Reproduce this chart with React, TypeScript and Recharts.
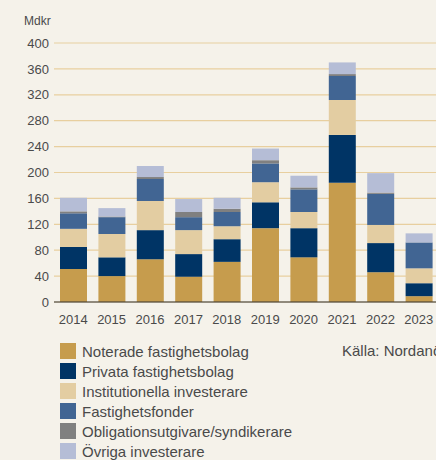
import React from "react";
import { BarChart, Bar, XAxis, YAxis, CartesianGrid } from "recharts";

// Mdkr per år och investerartyp
const years = ["2014", "2015", "2016", "2017", "2018", "2019", "2020", "2021", "2022", "2023"];
const noterade = [51, 40, 66, 39, 62, 114, 69, 184, 46, 9];
const privata = [34, 29, 45, 35, 35, 40, 45, 74, 45, 20];
const institutionella = [28, 36, 45, 37, 20, 31, 25, 54, 28, 23];
const fonder = [24, 26, 34, 20, 22, 29, 35, 37, 48, 40];
const obligationer = [3, 1, 3, 8, 5, 5, 3, 3, 2, 0];
const ovriga = [21, 13, 17, 20, 17, 18, 18, 18, 30, 14];
const yTicks = [0, 40, 80, 120, 160, 200, 240, 280, 320, 360, 400];

const series = [
  { key: "noterade", name: "Noterade fastighetsbolag", color: "#c69c4d", values: noterade },
  { key: "privata", name: "Privata fastighetsbolag", color: "#003465", values: privata },
  { key: "institutionella", name: "Institutionella investerare", color: "#e3cda2", values: institutionella },
  { key: "fonder", name: "Fastighetsfonder", color: "#416593", values: fonder },
  { key: "obligationer", name: "Obligationsutgivare/syndikerare", color: "#808080", values: obligationer },
  { key: "ovriga", name: "Övriga investerare", color: "#b5bdd6", values: ovriga },
];

const data = years.map((year, i) => {
  const row: Record<string, string | number> = { year };
  series.forEach((s) => {
    row[s.key] = s.values[i];
  });
  return row;
});

const font = "'Liberation Sans', Arial, sans-serif";
const textColor = "#4a4a4a";

const App: React.FC = () => {
  return (
    <div
      style={{
        position: "absolute",
        left: 0,
        top: 0,
        width: 436,
        height: 460,
        overflow: "hidden",
        background: "#f5f2ea",
        fontFamily: font,
        color: textColor,
      }}
    >
      <div style={{ position: "absolute", left: 24, top: 14, fontSize: 12 }}>Mdkr</div>
      <div style={{ position: "absolute", left: 0, top: 0 }}>
        <BarChart
          width={438}
          height={340}
          data={data}
          margin={{ top: 43, right: 0, bottom: 8, left: 0 }}
          barSize={27}
        >
          <CartesianGrid vertical={false} stroke="#e8cf9f" strokeWidth={1.2} />
          <XAxis
            dataKey="year"
            height={30}
            tickLine={false}
            tickMargin={7}
            stroke="#333"
            tick={{ fill: textColor, fontSize: 13, fontFamily: font }}
          />
          <YAxis
            width={54}
            domain={[0, 400]}
            ticks={yTicks}
            axisLine={false}
            tickLine={false}
            tickSize={0}
            tickMargin={5}
            tick={{ fill: textColor, fontSize: 13, fontFamily: font }}
          />
          {series.map((s) => (
            <Bar
              key={s.key}
              dataKey={s.key}
              name={s.name}
              stackId="a"
              fill={s.color}
              isAnimationActive={false}
            />
          ))}
        </BarChart>
      </div>
      <div style={{ position: "absolute", left: 60, top: 341, fontSize: 15 }}>
        {series.map((s) => (
          <div key={s.key} style={{ display: "flex", alignItems: "center", height: 20 }}>
            <span
              style={{ display: "inline-block", width: 16, height: 16, background: s.color, marginRight: 6 }}
            />
            <span style={{ whiteSpace: "nowrap" }}>{s.name}</span>
          </div>
        ))}
      </div>
      <div style={{ position: "absolute", left: 342, top: 341, fontSize: 15, whiteSpace: "nowrap", lineHeight: "20px" }}>
        Källa: Nordanö
      </div>
    </div>
  );
};

export default App;
